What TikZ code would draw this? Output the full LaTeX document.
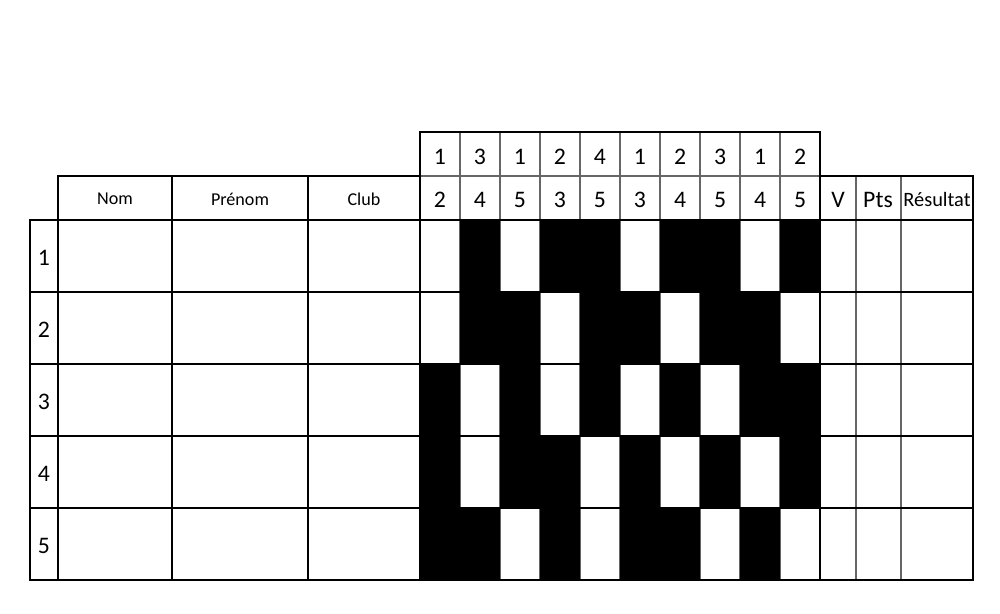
\documentclass[tikz,border=0pt]{standalone}
\usepackage{fontspec}
\setmainfont{Carlito}

\begin{document}
\begin{tikzpicture}[x=0.02cm, y=-0.02cm,
	thinline/.style={line width=0.6pt},
	greyline/.style={line width=0.6pt, black!60},
	thickline/.style={line width=1.1pt},
	num/.style={font=\fontsize{13.5}{15}\selectfont},
	head/.style={font=\fontsize{10.3}{12}\selectfont}]
	\useasboundingbox (0,0) rectangle (1000,613);
	% grid
	\foreach \x in {460,500,...,780} \draw[greyline] (\x,132)--(\x,580);
	\draw[greyline] (420,176)--(820,176);
	\draw[greyline] (856,176)--(856,580) (901,176)--(901,580);
	\foreach \y in {292,364,436,508} \draw[thinline] (30,\y)--(973,\y);
	\foreach \x in {172,308} \draw[thinline] (\x,176)--(\x,580);
	\draw[thinline] (58,220)--(58,580) (820,176)--(820,580);
	% bouts: black cell when the fencer is not in the bout
	\foreach \a/\b [count=\c] in {1/2,3/4,1/5,2/3,4/5,1/3,2/4,3/5,1/4,2/5}
	{
		\node[num] (top\c) at (400+40*\c,157) {\a};
		\node[num] (bot\c) at (400+40*\c,199.5) {\b};
		\foreach \r in {1,...,5}
		{
			\ifnum\r=\a\relax\else\ifnum\r=\b\relax\else
			\fill (380+40*\c,148+72*\r) rectangle (420+40*\c,220+72*\r);
			\fi\fi
		}
	}
	\draw[thickline] (30,220)--(58,220)--(58,176)--(420,176)--(420,132)--(820,132)--(820,176)--(973,176)--(973,580)--(30,580)--cycle;
	\draw[thickline] (58,220)--(973,220) (420,176)--(420,580);
	% headers
	\node[head] (nom) at (115,199) {Nom};
	\node[head] (prenom) at (240,199) {Prénom};
	\node[head] (club) at (364,199) {Club};
	\node[num] (v) at (838,199.5) {V};
	\node[num] (pts) at (878,199.5) {Pts};
	\node[font=\fontsize{11.6}{13}\selectfont] (res) at (937,199.5) {Résultat};
	\foreach \r in {1,...,5}
		\node[num] (row\r) at (44,186+72*\r) {\r};
\end{tikzpicture}
\end{document}
